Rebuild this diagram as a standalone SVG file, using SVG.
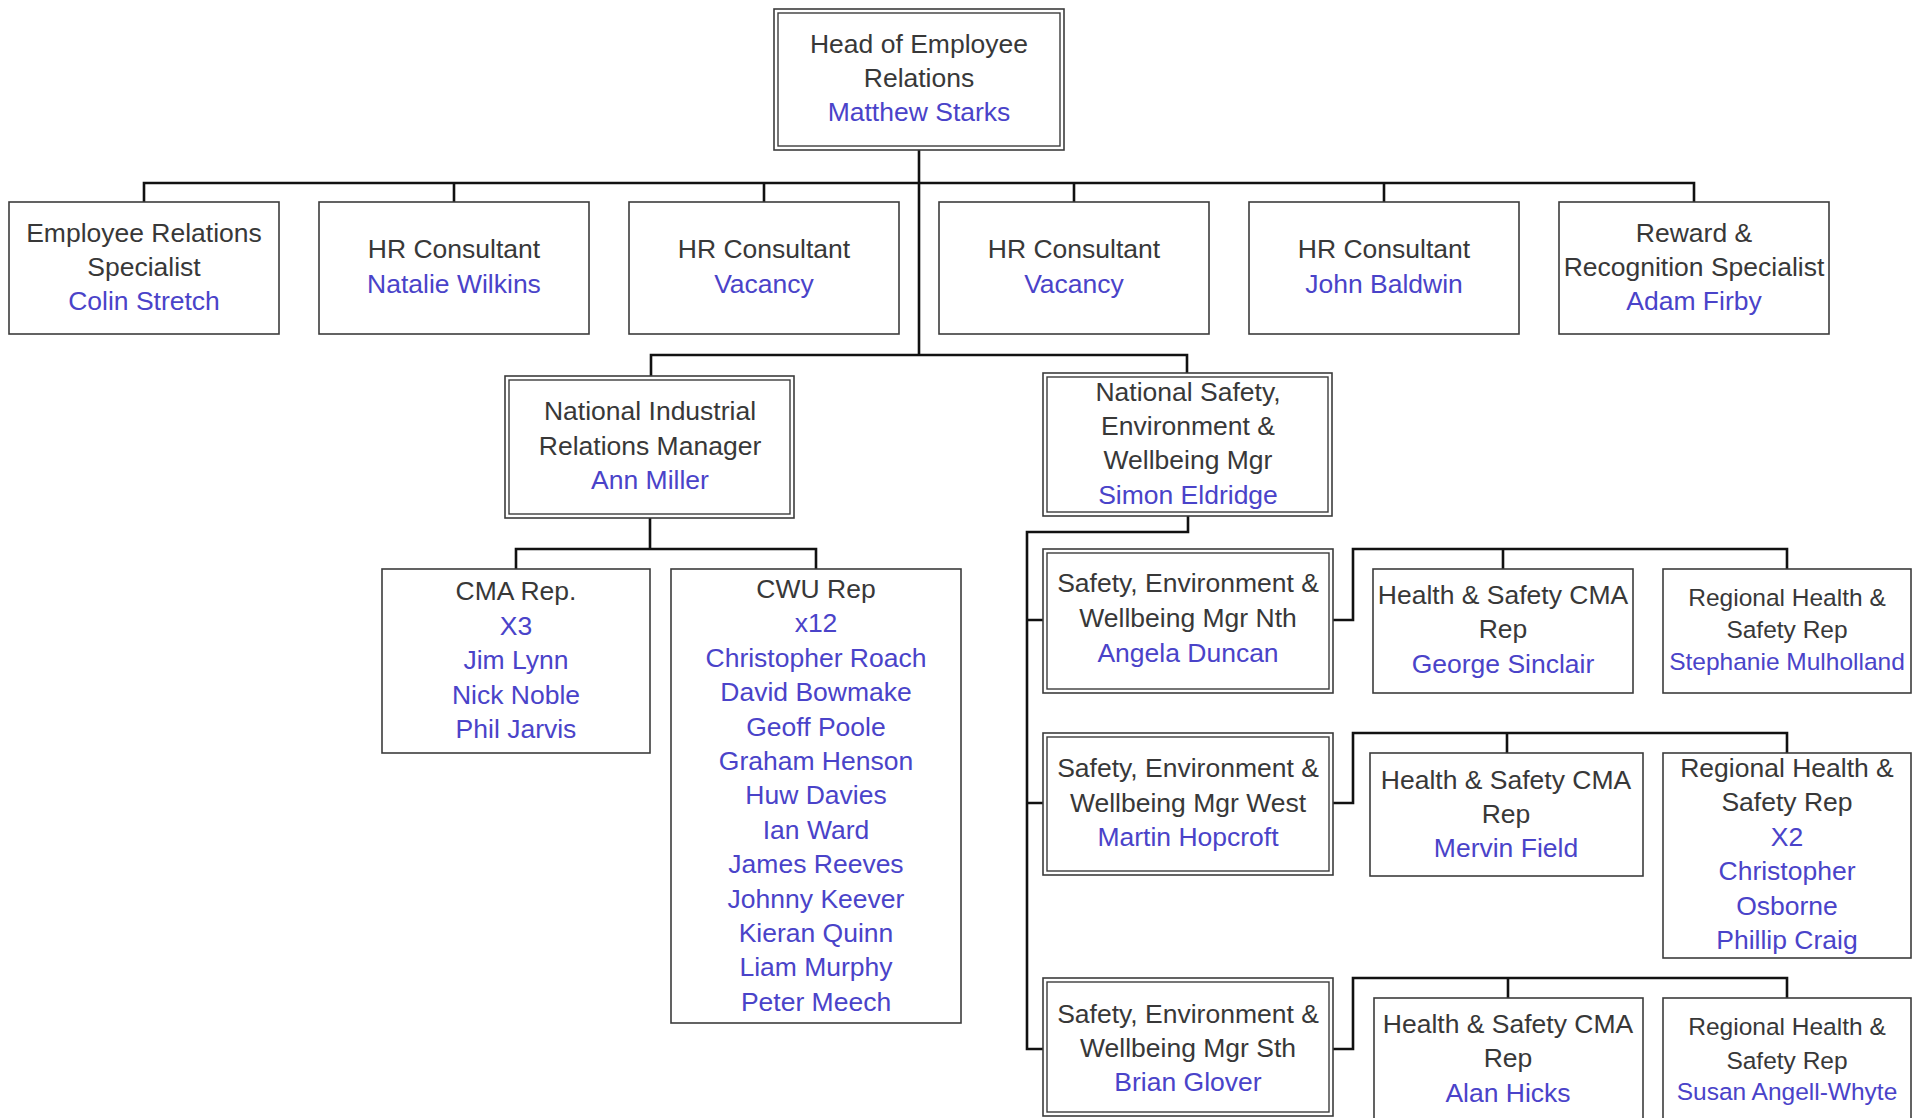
<svg xmlns="http://www.w3.org/2000/svg" width="1919" height="1118" viewBox="0 0 1919 1118">
<style>
.b{fill:#fff;stroke:#3c3c3c;stroke-width:1.6}
.i{fill:none;stroke:#3c3c3c;stroke-width:1.4}
.t{font-family:"Liberation Sans",Arial,sans-serif;font-size:26.5px;fill:#383838;text-anchor:middle}
.s{font-size:24.5px}
.n{fill:#4a43c9}
.c{fill:none;stroke:#111;stroke-width:2.6}
</style>
<rect width="1919" height="1118" fill="#fff"/>
<g id="connectors">
<path class="c" d="M919 150V355M144 202V183H1694V202M454 183V202M764 183V202M1074 183V202M1384 183V202"/>
<path class="c" d="M651 376V355H1187V373"/>
<path class="c" d="M650 518V549M516 569V549H816V569"/>
<path class="c" d="M1188 516V532H1027V1049H1043M1027 620H1043M1027 803H1043"/>
<path class="c" d="M1333 620H1353V549H1787V569M1503 549V569"/>
<path class="c" d="M1333 803H1353V733H1787V753M1507 733V753"/>
<path class="c" d="M1333 1049H1353V978H1787V998M1508 978V998"/>
</g>
<g id="head">
<rect class="b" x="774" y="9" width="290" height="141"/>
<rect class="i" x="778" y="13" width="282" height="133"/>
<text class="t" x="919" y="53">Head of Employee</text>
<text class="t" x="919" y="87">Relations</text>
<text class="t n" x="919" y="121">Matthew Starks</text>
</g>
<g id="er-specialist">
<rect class="b" x="9" y="202" width="270" height="132"/>
<text class="t" x="144" y="242">Employee Relations</text>
<text class="t" x="144" y="276">Specialist</text>
<text class="t n" x="144" y="310">Colin Stretch</text>
</g>
<g id="hr1">
<rect class="b" x="319" y="202" width="270" height="132"/>
<text class="t" x="454" y="258">HR Consultant</text>
<text class="t n" x="454" y="293">Natalie Wilkins</text>
</g>
<g id="hr2">
<rect class="b" x="629" y="202" width="270" height="132"/>
<text class="t" x="764" y="258">HR Consultant</text>
<text class="t n" x="764" y="293">Vacancy</text>
</g>
<g id="hr3">
<rect class="b" x="939" y="202" width="270" height="132"/>
<text class="t" x="1074" y="258">HR Consultant</text>
<text class="t n" x="1074" y="293">Vacancy</text>
</g>
<g id="hr4">
<rect class="b" x="1249" y="202" width="270" height="132"/>
<text class="t" x="1384" y="258">HR Consultant</text>
<text class="t n" x="1384" y="293">John Baldwin</text>
</g>
<g id="reward">
<rect class="b" x="1559" y="202" width="270" height="132"/>
<text class="t" x="1694" y="242">Reward &amp;</text>
<text class="t" x="1694" y="276">Recognition Specialist</text>
<text class="t n" x="1694" y="310">Adam Firby</text>
</g>
<g id="nirm">
<rect class="b" x="505" y="376" width="289" height="142"/>
<rect class="i" x="509" y="380" width="281" height="134"/>
<text class="t" x="650" y="420">National Industrial</text>
<text class="t" x="650" y="455">Relations Manager</text>
<text class="t n" x="650" y="489">Ann Miller</text>
</g>
<g id="nsew">
<rect class="b" x="1043" y="373" width="289" height="143"/>
<rect class="i" x="1047" y="377" width="281" height="135"/>
<text class="t" x="1188" y="401">National Safety,</text>
<text class="t" x="1188" y="435">Environment &amp;</text>
<text class="t" x="1188" y="469">Wellbeing Mgr</text>
<text class="t n" x="1188" y="504">Simon Eldridge</text>
</g>
<g id="cma">
<rect class="b" x="382" y="569" width="268" height="184"/>
<text class="t" x="516" y="600">CMA Rep.</text>
<text class="t n" x="516" y="635">X3</text>
<text class="t n" x="516" y="669">Jim Lynn</text>
<text class="t n" x="516" y="704">Nick Noble</text>
<text class="t n" x="516" y="738">Phil Jarvis</text>
</g>
<g id="cwu">
<rect class="b" x="671" y="569" width="290" height="454"/>
<text class="t" x="816" y="598">CWU Rep</text>
<text class="t n" x="816" y="632">x12</text>
<text class="t n" x="816" y="667">Christopher Roach</text>
<text class="t n" x="816" y="701">David Bowmake</text>
<text class="t n" x="816" y="736">Geoff Poole</text>
<text class="t n" x="816" y="770">Graham Henson</text>
<text class="t n" x="816" y="804">Huw Davies</text>
<text class="t n" x="816" y="839">Ian Ward</text>
<text class="t n" x="816" y="873">James Reeves</text>
<text class="t n" x="816" y="908">Johnny Keever</text>
<text class="t n" x="816" y="942">Kieran Quinn</text>
<text class="t n" x="816" y="976">Liam Murphy</text>
<text class="t n" x="816" y="1011">Peter Meech</text>
</g>
<g id="sew-nth">
<rect class="b" x="1043" y="549" width="290" height="144"/>
<rect class="i" x="1047" y="553" width="282" height="136"/>
<text class="t" x="1188" y="592">Safety, Environment &amp;</text>
<text class="t" x="1188" y="627">Wellbeing Mgr Nth</text>
<text class="t n" x="1188" y="662">Angela Duncan</text>
</g>
<g id="hs-nth">
<rect class="b" x="1373" y="569" width="260" height="124"/>
<text class="t" x="1503" y="604">Health &amp; Safety CMA</text>
<text class="t" x="1503" y="638">Rep</text>
<text class="t n" x="1503" y="673">George Sinclair</text>
</g>
<g id="reg-nth">
<rect class="b" x="1663" y="569" width="248" height="124"/>
<text class="t s" x="1787" y="606">Regional Health &amp;</text>
<text class="t s" x="1787" y="638">Safety Rep</text>
<text class="t s n" x="1787" y="670">Stephanie Mulholland</text>
</g>
<g id="sew-west">
<rect class="b" x="1043" y="733" width="290" height="142"/>
<rect class="i" x="1047" y="737" width="282" height="134"/>
<text class="t" x="1188" y="777">Safety, Environment &amp;</text>
<text class="t" x="1188" y="812">Wellbeing Mgr West</text>
<text class="t n" x="1188" y="846">Martin Hopcroft</text>
</g>
<g id="hs-west">
<rect class="b" x="1370" y="753" width="273" height="123"/>
<text class="t" x="1506" y="789">Health &amp; Safety CMA</text>
<text class="t" x="1506" y="823">Rep</text>
<text class="t n" x="1506" y="857">Mervin Field</text>
</g>
<g id="reg-west">
<rect class="b" x="1663" y="753" width="248" height="205"/>
<text class="t" x="1787" y="777">Regional Health &amp;</text>
<text class="t" x="1787" y="811">Safety Rep</text>
<text class="t n" x="1787" y="846">X2</text>
<text class="t n" x="1787" y="880">Christopher</text>
<text class="t n" x="1787" y="915">Osborne</text>
<text class="t n" x="1787" y="949">Phillip Craig</text>
</g>
<g id="sew-sth">
<rect class="b" x="1043" y="978" width="290" height="138"/>
<rect class="i" x="1047" y="982" width="282" height="130"/>
<text class="t" x="1188" y="1023">Safety, Environment &amp;</text>
<text class="t" x="1188" y="1057">Wellbeing Mgr Sth</text>
<text class="t n" x="1188" y="1091">Brian Glover</text>
</g>
<g id="hs-sth">
<rect class="b" x="1374" y="998" width="269" height="130"/>
<text class="t" x="1508" y="1033">Health &amp; Safety CMA</text>
<text class="t" x="1508" y="1067">Rep</text>
<text class="t n" x="1508" y="1102">Alan Hicks</text>
</g>
<g id="reg-sth">
<rect class="b" x="1663" y="998" width="248" height="130"/>
<text class="t s" x="1787" y="1035">Regional Health &amp;</text>
<text class="t s" x="1787" y="1069">Safety Rep</text>
<text class="t s n" x="1787" y="1100">Susan Angell-Whyte</text>
</g>
</svg>
